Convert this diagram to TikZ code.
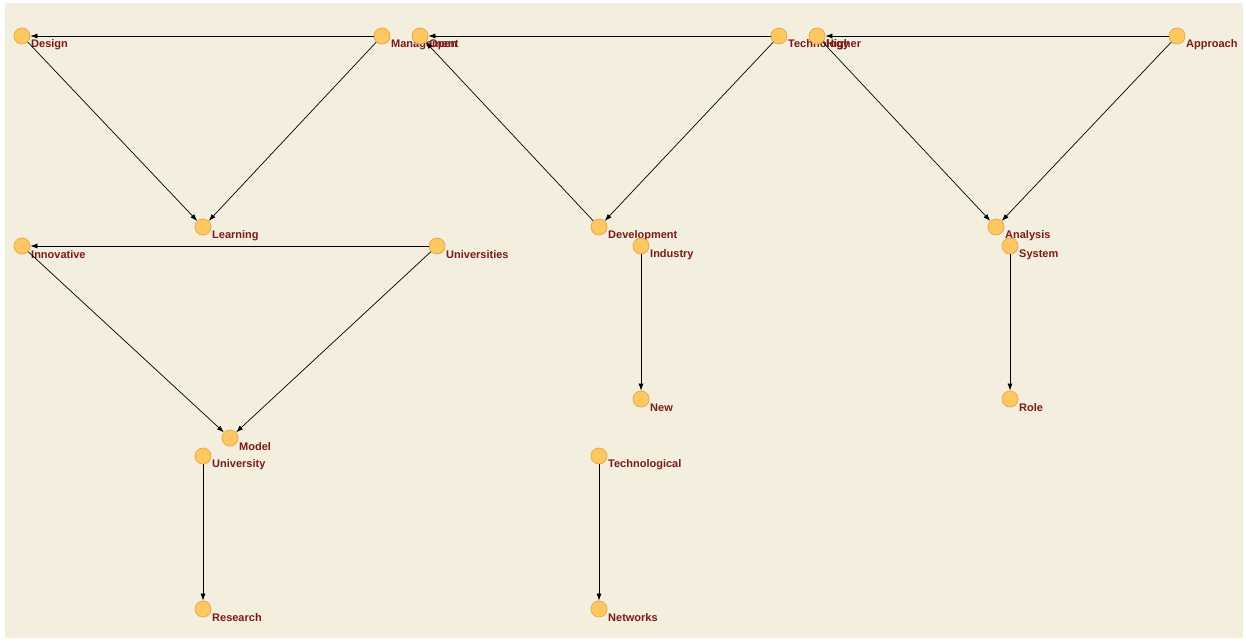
\documentclass[tikz,border=0pt]{standalone}
\usepackage{fontspec}
\setmainfont{Liberation Sans}
\usetikzlibrary{arrows.meta}
\definecolor{bg}{HTML}{F3EEDD}
\definecolor{nodefill}{HTML}{FDC862}
\definecolor{nodedraw}{HTML}{E9A94A}
\definecolor{lbl}{HTML}{7A1A1A}
\tikzset{
  vert/.style={circle,fill=nodefill,draw=nodedraw,line width=0.8pt,minimum size=16pt,inner sep=0pt},
  lab/.style={anchor=west,text=lbl,font=\bfseries\fontsize{11}{12}\selectfont,inner sep=0pt},
  edge/.style={draw=black,line width=0.7pt,-{Latex[length=7pt,width=5pt]}}
}
\begin{document}
\begin{tikzpicture}[x=1pt,y=-1pt]
\useasboundingbox (0,0) rectangle (1246,641);
\fill[white] (0,0) rectangle (1246,641);
\fill[bg] (5,3) rectangle (1243,638);
\foreach \n/\x/\y/\t in {
 design/22/36/Design, management/382/36/Management, open/420/36/Open,
 technology/779/36/Technology, higher/817/36/Higher, approach/1177/36/Approach,
 learning/203/227/Learning, development/599/227/Development, analysis/996/227/Analysis,
 innovative/22/246/Innovative, universities/437/246/Universities, industry/641/246/Industry,
 system/1010/246/System, new/641/399/New, role/1010/399/Role, model/230/438/Model,
 university/203/456/University, technological/599/456/Technological,
 research/203/609/Research, networks/599/609/Networks}{
  \node[vert] (\n) at (\x,\y) {};
  \node[lab] (\n-l) at (\x+9,\y+8.5) {\t};
}
\draw[edge] (management) -- (design);
\draw[edge] (design) -- (learning);
\draw[edge] (management) -- (learning);
\draw[edge] (technology) -- (open);
\draw[edge] (development) -- (open);
\draw[edge] (technology) -- (development);
\draw[edge] (approach) -- (higher);
\draw[edge] (higher) -- (analysis);
\draw[edge] (approach) -- (analysis);
\draw[edge] (universities) -- (innovative);
\draw[edge] (innovative) -- (model);
\draw[edge] (universities) -- (model);
\draw[edge] (industry) -- (new);
\draw[edge] (system) -- (role);
\draw[edge] (university) -- (research);
\draw[edge] (technological) -- (networks);
\end{tikzpicture}
\end{document}
